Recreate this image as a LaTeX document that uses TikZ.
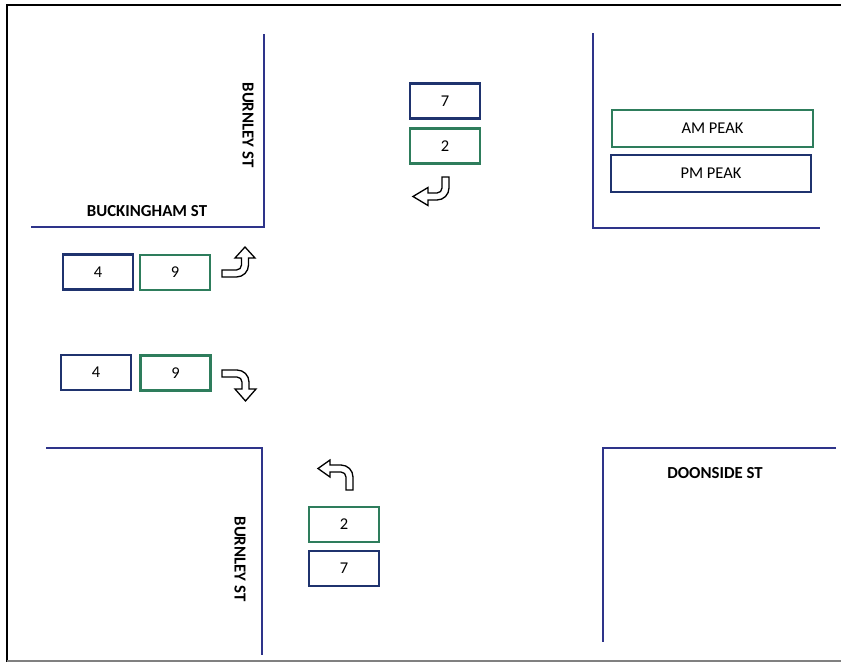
\documentclass[tikz,border=0pt]{standalone}
\usepackage{fontspec}
\setmainfont{Carlito}
\definecolor{navybox}{RGB}{31,51,110}
\definecolor{greenbox}{RGB}{46,125,92}
\definecolor{roadblue}{RGB}{46,52,138}
\pgfkeys{/arr/.cd, LR/.initial=26, H/.initial=19, hh/.initial=11, hw/.initial=10, t/.initial=7, R/.initial=12}
\tikzset{
  turnarrow/.pic={
    \pgfmathsetmacro\aLR{\pgfkeysvalueof{/arr/LR}}
    \pgfmathsetmacro\aR{\pgfkeysvalueof{/arr/R}}
    \pgfmathsetmacro\at{\pgfkeysvalueof{/arr/t}}
    \pgfmathsetmacro\aH{\pgfkeysvalueof{/arr/H}}
    \pgfmathsetmacro\ahh{\pgfkeysvalueof{/arr/hh}}
    \pgfmathsetmacro\ahw{\pgfkeysvalueof{/arr/hw}}
    \pgfmathsetmacro\aL{\aLR-\aR}
    \pgfmathsetmacro\axc{\aLR-\at/2}
    \pgfmathsetmacro\ari{\aR-\at}
    \path[draw=black, fill=white, line width=1.3pt]
      (0,0) -- (\aL,0) arc[start angle=90, end angle=0, radius=\aR]
      -- (\aLR,-\aH) -- ({\axc+\ahw},-\aH) -- (\axc,{-\aH-\ahh}) -- ({\axc-\ahw},-\aH)
      -- ({\aLR-\at},-\aH) -- ({\aLR-\at},-\aR) arc[start angle=0, end angle=90, radius=\ari]
      -- (0,-\at) -- cycle;
  }
}
\begin{document}
\begin{tikzpicture}[x=1pt,y=-1pt,
  roadline/.style={draw=roadblue, line width=1.4pt},
  cbox/.style={draw, line width=2.2pt, fill=white, inner sep=0pt,
    minimum width=70pt, minimum height=35pt, font=\fontsize{16.5}{19}\selectfont},
  nbox/.style={cbox, draw=navybox},
  gbox/.style={cbox, draw=greenbox},
  street/.style={font=\fontsize{16.8}{19}\selectfont\bfseries, inner sep=0pt},
]
\useasboundingbox (0,0) rectangle (841,662);
% frame
\draw[line width=2.4pt] (841,5) -- (7,5) -- (7,662);
\draw[gray, line width=1.5pt] (7,661) -- (841,661);
% road edges
\draw[roadline] (264,34) -- (264,227) -- (31,227);
\draw[roadline] (593,33) -- (593,228) -- (820,228);
\draw[roadline] (46,448) -- (262,448) -- (262,655);
\draw[roadline] (836,448) -- (603,448) -- (603,642);
% street names
\node[street, rotate=-90] (burnN) at (248,125) {BURNLEY ST};
\node[street] (buck) at (147,211) {BUCKINGHAM ST};
\node[street, rotate=-90] (burnS) at (240,559) {BURNLEY ST};
\node[street] (doon) at (715,473) {DOONSIDE ST};
% legend
\node[gbox, minimum width=201pt, minimum height=37pt] (am) at (712.5,128.5) {AM PEAK};
\node[nbox, minimum width=200pt, minimum height=37pt] (pm) at (711,173.5) {PM PEAK};
% counts
\node[nbox] (n7) at (445,101) {7};
\node[gbox] (n2) at (445,146) {2};
\node[nbox] (w4a) at (98,272) {4};
\node[gbox] (w9a) at (175,272.5) {9};
\node[nbox] (w4b) at (96,372.5) {4};
\node[gbox] (w9b) at (175.5,373) {9};
\node[gbox] (s2) at (344,524.5) {2};
\node[nbox] (s7) at (344,568.5) {7};
% turn arrows
\pic[rotate=-90, yscale=-1, /arr/LR=23, /arr/H=21, /arr/hh=15, /arr/hw=9] at (449,177) {turnarrow};
\pic[/arr/LR=26.5, /arr/H=19, /arr/hh=11, /arr/hw=10] at (222,277) {turnarrow};
\pic[yscale=-1, /arr/LR=27, /arr/H=19, /arr/hh=12, /arr/hw=10.5] at (222,370) {turnarrow};
\pic[rotate=90, /arr/LR=25, /arr/H=23, /arr/hh=12, /arr/hw=8.5] at (353,490) {turnarrow};
\end{tikzpicture}
\end{document}
